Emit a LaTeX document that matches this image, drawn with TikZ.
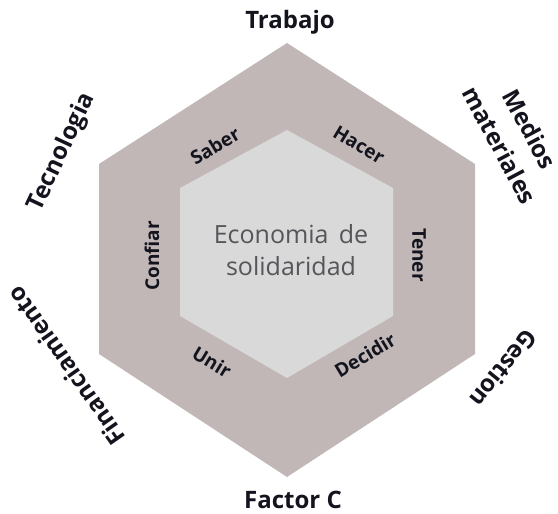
\documentclass[tikz,border=0pt]{standalone}
\usepackage{fontspec}
\setmainfont{Open Sans}
\definecolor{ring}{RGB}{193,183,183}
\definecolor{core}{RGB}{217,217,217}
\definecolor{ink}{RGB}{20,20,30}
\definecolor{softink}{RGB}{85,85,90}
\begin{document}
\begin{tikzpicture}[
            x=1pt, y=-1pt,
            factor/.style={font=\fontsize{24}{34}\selectfont\bfseries, text=ink, align=center, inner sep=0pt},
            verb/.style={font=\fontsize{19}{23}\selectfont\bfseries, text=ink, inner sep=0pt},
            core text/.style={font=\fontsize{25}{32}\selectfont, text=softink, align=center, inner sep=0pt}
            ]
        \useasboundingbox (0,0) rectangle (558,514);
        % the two hexagons
        \fill[ring] (287,43) -- (475,164) -- (475,354) -- (287,477) -- (99,354) -- (99,164) -- cycle;
        \fill[core] (287,130) -- (393,188) -- (393,316) -- (287,378) -- (180,316) -- (180,188) -- cycle;
        \node[core text] (eco) at (291,250) {Economia\hspace{0.15em} de\\solidaridad};
        % inner words
        \node[verb, rotate=31] (saber) at (215,146) {Saber};
        \node[verb, rotate=-31] (hacer) at (359,145) {Hacer};
        \node[verb, rotate=-90] (tener) at (419,255) {Tener};
        \node[verb, rotate=31] (decidir) at (365,355) {Decidir};
        \node[verb, rotate=-31] (unir) at (212,362) {Unir};
        \node[verb, rotate=90] (confiar) at (152,256) {Confiar};
        % outer factors
        \node[factor, anchor=base] (trabajo) at (290,28) {Trabajo};
        \node[factor, anchor=base] (factorc) at (293,508) {Factor C};
        \node[factor, rotate=65] (tecno) at (62,152) {Tecnologia};
        \node[factor, rotate=-62] (medios) at (515,137) {Medios\\materiales};
        \node[factor, rotate=125] (finan) at (66,366) {Financiamiento};
        \node[factor, rotate=-129] (gestion) at (504,369) {Gestion};
\end{tikzpicture}
\end{document}
